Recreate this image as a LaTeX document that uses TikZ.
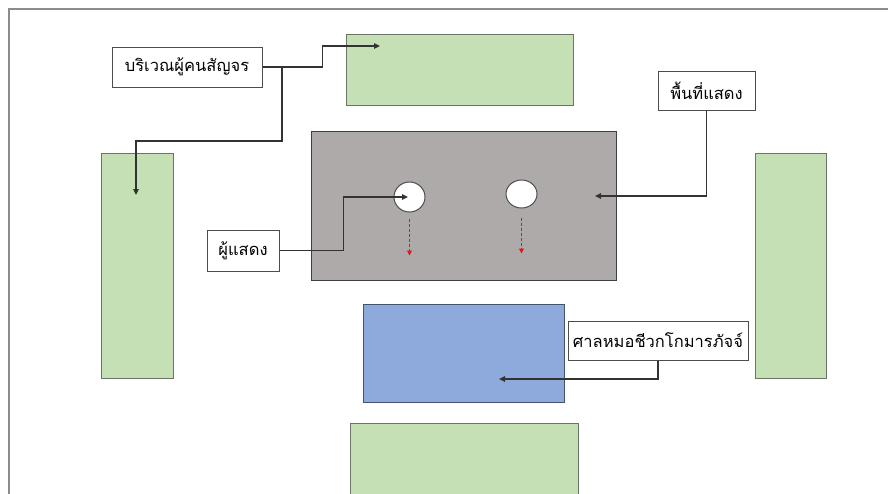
\documentclass[tikz,border=0pt]{standalone}
\usepackage{fontspec}
\newfontfamily\thaifont[Script=Thai]{Loma}
\usetikzlibrary{arrows.meta,calc,shapes.geometric}
\definecolor{grnfill}{HTML}{C5E0B4}
\definecolor{grndraw}{HTML}{6B7565}
\definecolor{grayfill}{HTML}{AEAAAA}
\definecolor{bluefill}{HTML}{8EA9DB}
\definecolor{bluedraw}{HTML}{42536E}
\definecolor{framecol}{HTML}{8C8C8C}
\definecolor{movered}{HTML}{F0101A}
\begin{document}
\begin{tikzpicture}[x=1pt,y=-1pt,
  area/.style={draw=grndraw,fill=grnfill,line width=0.9pt,inner sep=0pt},
  stage/.style={draw=black!75,fill=grayfill,line width=0.9pt,inner sep=0pt},
  hall/.style={draw=bluedraw,fill=bluefill,line width=0.9pt,inner sep=0pt},
  actor/.style={ellipse,draw=black!70,fill=white,line width=1pt,inner sep=0pt,minimum width=31pt,minimum height=30pt},
  lbl/.style={draw=black!70,fill=white,line width=1pt,inner sep=0pt,font=\thaifont\fontsize{16.5}{20}\selectfont},
  conn/.style={draw=black!80,line width=1.1pt,-{Triangle[length=6pt,width=5.5pt]}},
  move/.style={draw=movered,dash pattern=on 3pt off 2pt,line width=1pt,-{Triangle[length=5pt,width=5pt]}}
]
\useasboundingbox (0,0) rectangle (888,493);
\clip (0,0) rectangle (888,493);
\fill[white] (0,0) rectangle (888,493);
% frame
\draw[framecol,line width=1.3pt] (9,500) -- (9,9) -- (892,9);
% areas
\node[area,minimum width=227pt,minimum height=71pt] (topg) at (459.5,69.5) {};
\node[area,minimum width=72pt,minimum height=225pt] (leftg) at (137,265.5) {};
\node[area,minimum width=71pt,minimum height=225pt] (rightg) at (790.5,265.5) {};
\node[area,minimum width=228pt,minimum height=100pt] (botg) at (464,473) {};
\node[stage,minimum width=305pt,minimum height=149pt] (stage) at (463.5,205.5) {};
\node[hall,minimum width=201pt,minimum height=98pt] (hall) at (463.5,353) {};
% performers
\node[actor] (c1) at (409.5,197) {};
\node[actor,minimum height=28pt] (c2) at (521.5,194) {};
% labels
\node[lbl,minimum width=150pt,minimum height=40pt] (L1) at (187,67) {บริเวณผู้คนสัญจร};
\node[lbl,minimum width=97pt,minimum height=39pt] (L2) at (706.5,90.5) {พื้นที่แสดง};
\node[lbl,minimum width=72pt,minimum height=41pt] (L3) at (243,250.5) {ผู้แสดง};
\node[lbl,minimum width=180pt,minimum height=39pt] (L4) at (658,340.5) {ศาลหมอชีวกโกมารภัจจ์};
% targets
\coordinate (t1) at (380,46);
\coordinate (t2) at (136,195);
\coordinate (t3) at (595,196);
\coordinate (t4) at (408,197);
\coordinate (t5) at (499,379);
\coordinate (j1) at (282,67);
% connectors
\draw[conn] (L1.east) -- ++(60,0) |- (t1);
\draw[conn] (j1) -- ++(0,74) -| (t2);
\draw[conn] (L2.south) |- (t3);
\draw[conn] (L3.east) -- ++(64,0) |- (t4);
\draw[conn] (L4.south) |- (t5);
% movement
\draw[move] ($(c1.south)+(0,6)$) -- ($(c1.south)+(0,43)$);
\draw[move] ($(c2.south)+(0,9)$) -- ($(c2.south)+(0,45)$);
\end{tikzpicture}
\end{document}
